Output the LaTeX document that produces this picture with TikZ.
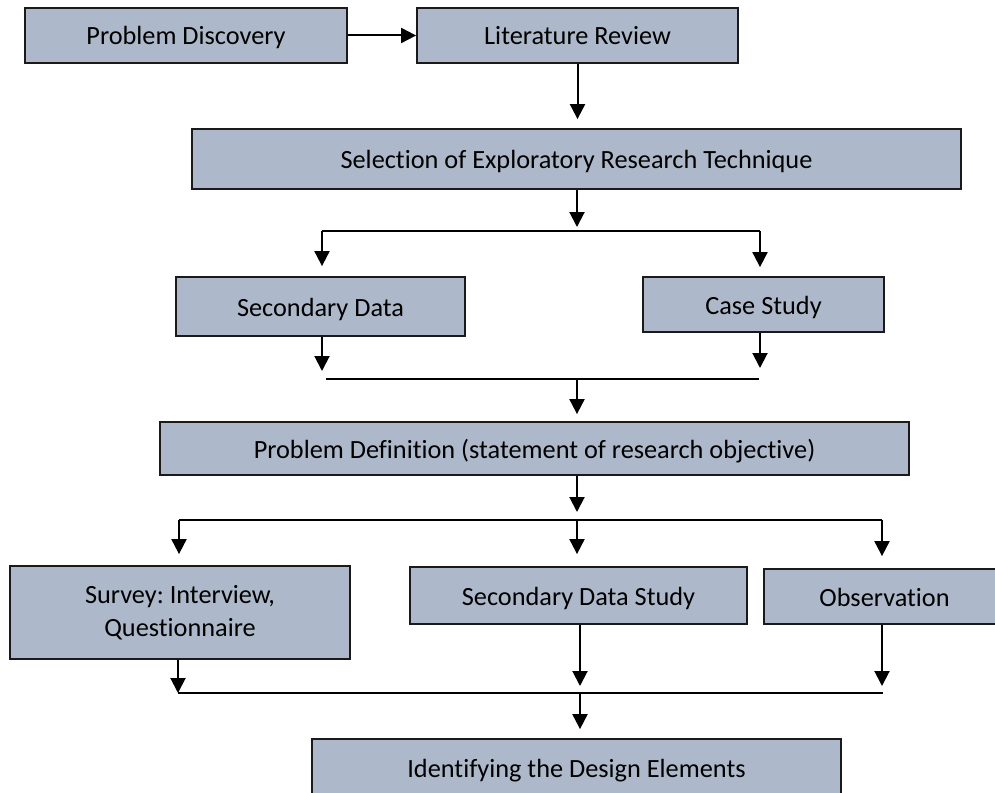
\documentclass[tikz,border=0pt]{standalone}
\usepackage{fontspec}
\setmainfont{Carlito}[Ligatures=NoCommon]
\frenchspacing
\usetikzlibrary{arrows.meta,calc}
\definecolor{boxfill}{HTML}{ADB9CA}
\definecolor{boxline}{HTML}{1A1A1A}
\tikzset{
  stepbox/.style={draw=boxline, line width=1.8pt, fill=boxfill, inner sep=0pt,
    align=center, font=\fontsize{26.3}{33}\selectfont, text=black},
  oneline/.style={text height=19pt, text depth=0pt},
  arr/.style={line width=2pt, -{Triangle[length=15pt,width=15pt]}},
  ln/.style={line width=1.3pt}
}
\begin{document}
\begin{tikzpicture}[x=1pt,y=-1pt]
\useasboundingbox (0,0) rectangle (995,792);
\clip (0,0) rectangle (995,792);
\fill[white] (0,0) rectangle (995,792);
% boxes
\node[stepbox, oneline, minimum width=322pt, minimum height=55pt] (pd) at (186,35.5) {Problem Discovery};
\node[stepbox, oneline, minimum width=321pt, minimum height=55pt] (lr) at (577.5,35.5) {Literature Review};
\node[stepbox, oneline, minimum width=769pt, minimum height=60pt] (sel) at (576.5,159) {Selection of Exploratory Research Technique};
\node[stepbox, oneline, minimum width=289pt, minimum height=59pt] (sd) at (320.5,306.5) {Secondary Data};
\node[stepbox, oneline, minimum width=241pt, minimum height=55pt] (cs) at (763.5,304.5) {Case Study};
\node[stepbox, oneline, minimum width=749pt, minimum height=53pt] (def) at (534.5,448.5) {Problem Definition (statement of research objective)};
\node[stepbox, minimum width=340pt, minimum height=93pt] (sur) at (180,612.5) {Survey: Interview,\\Questionnaire};
\node[stepbox, oneline, minimum width=337pt, minimum height=57pt] (sds) at (578.5,595.5) {Secondary Data Study};
\node[stepbox, oneline, minimum width=241pt, minimum height=55pt] (obs) at (884.5,596.5) {Observation};
\node[stepbox, oneline, minimum width=529pt, minimum height=57pt] (ide) at (576.5,767.5) {Identifying the Design Elements};
% junctions
\coordinate (b1) at (577,231);
\coordinate (b1l) at (322,231);
\coordinate (b1r) at (760,231);
\coordinate (m1l) at (326,379);
\coordinate (m1r) at (759,379);
\coordinate (m1c) at (577,379);
\coordinate (b2) at (577,520);
\coordinate (b2l) at (179,520);
\coordinate (b2r) at (882,520);
\coordinate (m2l) at (178,693);
\coordinate (m2r) at (883,693);
\coordinate (m2c) at (580,693);
% connectors
\draw[arr] (pd) -- (lr);
\draw[arr, shorten >=9pt] (lr.south) -- (lr.south |- sel.north);
\draw[arr, shorten >=4pt] (sel.south -| b1) -- (b1);
\draw[ln] (b1l) -- (b1r);
\draw[arr, shorten >=10pt] (b1l) -- (sd.north -| b1l);
\draw[arr, shorten >=9pt] (b1r) -- (cs.north -| b1r);
\draw[arr, shorten >=8pt] (sd.south -| b1l) -- (b1l |- m1l);
\draw[arr, shorten >=11pt] (cs.south -| b1r) -- (b1r |- m1r);
\draw[ln] (m1l) -- (m1r);
\draw[arr, shorten >=7pt] (m1c) -- (m1c |- def.north);
\draw[arr, shorten >=8pt] (def.south -| b2) -- (b2);
\draw[ln] (b2l) -- (b2r);
\draw[arr, shorten >=11pt] (b2l) -- (b2l |- sur.north);
\draw[arr, shorten >=12pt] (b2) -- (b2 |- sds.north);
\draw[arr, shorten >=12pt] (b2r) -- (b2r |- obs.north);
\draw[arr] (sur.south -| m2l) -- (m2l);
\draw[arr, shorten >=7pt] (sds.south -| m2c) -- (m2c);
\draw[arr, shorten >=7pt] (obs.south -| b2r) -- (b2r |- m2r);
\draw[ln] (m2l) -- (m2r);
\draw[arr, shorten >=9pt] (m2c) -- (m2c |- ide.north);
\end{tikzpicture}
\end{document}
